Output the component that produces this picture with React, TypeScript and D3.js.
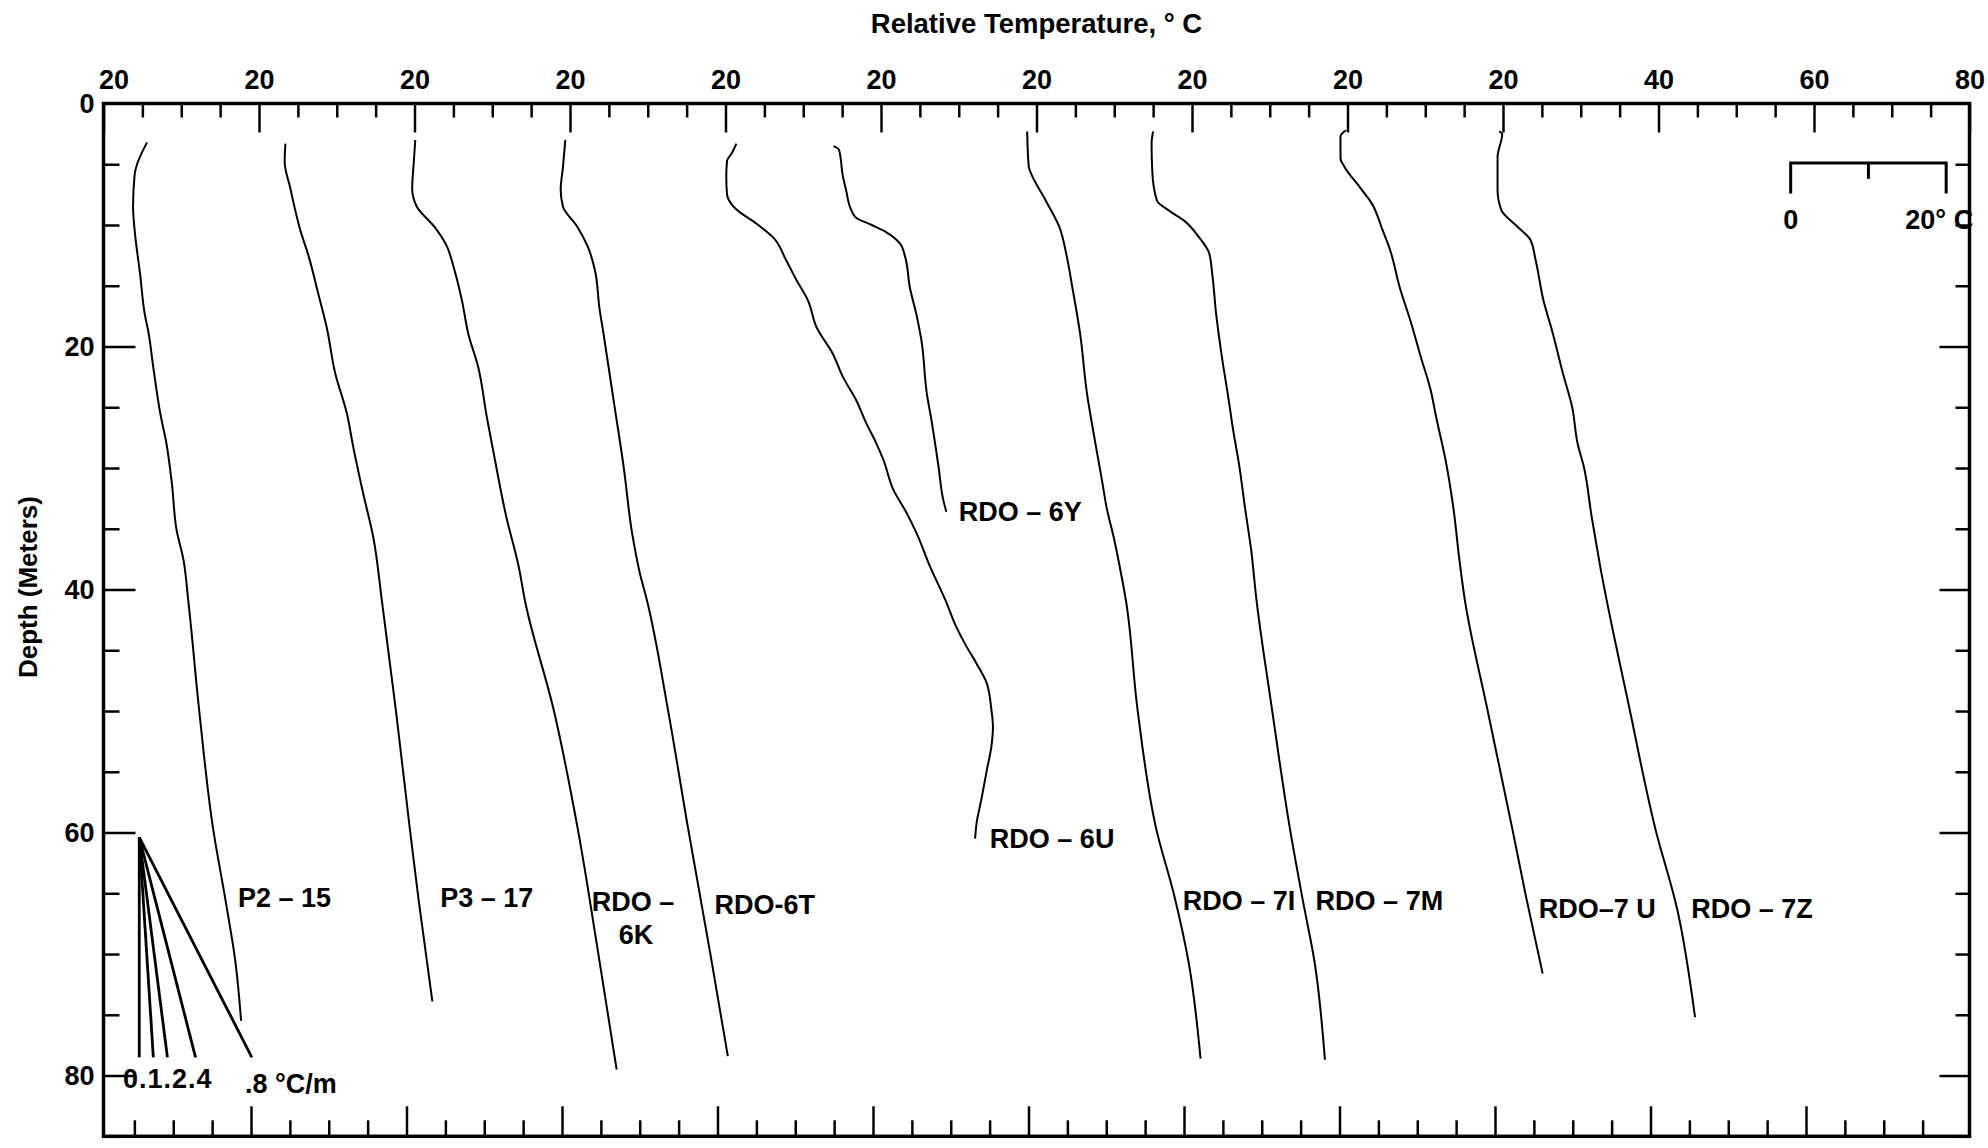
import React, { useEffect, useRef } from "react";
import * as d3 from "d3";

// top axis: every profile has its own "20", the last one runs on to 80
const topTickLabels = ["20", "20", "20", "20", "20", "20", "20", "20", "20", "20", "40", "60", "80"];
const depthTicks = [0, 20, 40, 60, 80];

const profileNames = ["P2 – 15", "P3 – 17", "RDO – 6K", "RDO-6T", "RDO – 6U", "RDO – 6Y", "RDO – 7I", "RDO – 7M", "RDO–7 U", "RDO – 7Z"];

// depth (m) / relative temperature (°C)
const p215Depth = [3.2, 5.9, 8.5, 10.4, 14.0, 17.3, 18.9, 21.7, 25.5, 28.0, 31.3, 35.1, 37.6, 40.9, 49.9, 59.7, 65.6, 70.8, 75.5];
const p215Temp = [25.6, 24.0, 23.8, 24.0, 24.7, 25.3, 25.8, 26.4, 27.3, 28.1, 28.8, 29.4, 30.3, 30.9, 32.3, 34.1, 35.7, 37.0, 37.7];

const p317Depth = [3.3, 4.8, 6.9, 10.4, 12.6, 15.6, 18.4, 22.2, 25.5, 28.2, 32.1, 35.7, 40.9, 49.9, 59.7, 65.4, 73.9];
const p317Temp = [23.4, 23.3, 24.0, 25.3, 26.4, 27.6, 28.7, 29.8, 31.3, 32.1, 33.4, 34.7, 35.8, 37.6, 39.4, 40.5, 42.3];

const rdo6kDepth = [3.0, 4.9, 7.0, 8.5, 10.1, 11.8, 13.4, 16.2, 18.9, 21.7, 25.8, 28.5, 34.0, 38.1, 40.9, 49.9, 59.7, 69.8, 79.5];
const rdo6kTemp = [20.1, 19.9, 19.7, 20.3, 22.5, 24.2, 25.0, 26.1, 26.9, 28.2, 29.3, 30.1, 31.8, 33.4, 34.2, 37.9, 41.0, 43.6, 46.0];

const rdo6tDepth = [3.0, 5.2, 7.1, 8.5, 10.1, 11.8, 13.7, 16.9, 18.9, 24.4, 29.9, 35.4, 38.7, 40.9, 49.9, 59.7, 69.8, 78.4];
const rdo6tTemp = [19.4, 19.1, 18.8, 19.1, 20.9, 22.3, 23.2, 23.8, 24.3, 25.6, 26.9, 28.0, 29.0, 29.9, 32.6, 35.2, 38.0, 40.3];

const rdo6uDepth = [3.3, 4.1, 4.7, 6.0, 7.5, 8.6, 9.9, 11.0, 12.9, 14.5, 16.2, 18.4, 20.6, 22.5, 24.4, 26.3, 27.7, 29.3, 31.8, 33.7, 35.4, 38.1, 40.9, 43.1, 44.7, 46.1, 47.7, 49.9, 51.3, 52.9, 54.9, 57.3, 59.2, 60.5];
const rdo6uTemp = [21.4, 20.8, 20.2, 20.1, 20.2, 21.2, 24.0, 26.1, 27.8, 29.1, 30.6, 31.7, 33.8, 35.1, 36.8, 38.1, 39.2, 40.3, 41.6, 43.3, 44.6, 46.3, 48.3, 49.7, 51.0, 52.3, 53.6, 54.2, 54.4, 54.2, 53.6, 52.9, 52.3, 52.1];

const rdo6yDepth = [3.5, 3.8, 6.0, 7.1, 8.8, 9.4, 10.0, 10.6, 11.5, 12.6, 15.1, 17.5, 19.5, 23.9, 26.1, 29.9, 32.6, 33.6];
const rdo6yTemp = [13.9, 14.6, 15.1, 15.5, 16.2, 16.8, 18.8, 20.7, 22.4, 23.1, 23.7, 24.6, 25.2, 25.9, 26.5, 27.4, 28.0, 28.4];

const rdo7iDepth = [2.3, 5.2, 5.6, 8.0, 10.1, 12.6, 15.1, 18.9, 23.9, 27.7, 31.3, 33.2, 35.9, 38.1, 40.9, 49.9, 59.7, 65.4, 70.8, 78.6];
const rdo7iTemp = [18.8, 19.0, 19.2, 21.2, 22.9, 23.9, 24.6, 25.6, 26.5, 27.5, 28.5, 29.0, 30.0, 30.7, 31.5, 33.0, 35.4, 37.8, 39.6, 41.1];

const rdo7mDepth = [2.3, 3.3, 5.7, 8.0, 8.8, 9.6, 11.0, 12.3, 14.0, 17.3, 21.1, 23.9, 26.9, 29.9, 33.2, 36.7, 40.9, 49.9, 59.7, 65.4, 70.8, 78.7];
const rdo7mTemp = [15.0, 14.8, 14.9, 15.5, 17.0, 18.9, 20.9, 22.2, 22.6, 23.1, 23.9, 24.6, 25.3, 26.1, 26.8, 27.6, 28.3, 30.3, 32.6, 34.2, 35.8, 37.1];

const rdo7uDepth = [2.2, 2.7, 4.5, 5.2, 6.9, 8.2, 10.4, 12.1, 15.1, 18.1, 20.8, 23.6, 25.8, 29.3, 33.2, 37.6, 40.9, 49.9, 59.7, 65.4, 71.6];
const rdo7uTemp = [19.8, 19.1, 19.1, 19.6, 21.6, 23.1, 24.5, 25.5, 26.7, 28.2, 29.4, 30.7, 31.4, 32.6, 33.6, 34.4, 35.1, 38.0, 41.2, 43.0, 45.1];

const rdo7zDepth = [2.3, 2.5, 4.4, 5.2, 7.1, 8.8, 10.1, 11.2, 12.9, 16.2, 18.9, 22.2, 25.0, 28.0, 29.9, 34.0, 38.1, 49.9, 59.7, 66.3, 75.2];
const rdo7zTemp = [19.5, 19.9, 19.3, 19.3, 19.3, 19.8, 21.8, 23.5, 24.2, 25.2, 26.4, 27.7, 28.9, 29.6, 30.4, 31.4, 32.5, 36.3, 39.6, 42.4, 44.7];

// reference gradients fan, °C/m
const gradients = [0, 0.1, 0.2, 0.4, 0.8];

const profiles = [
  { name: profileNames[0], depth: p215Depth, temp: p215Temp },
  { name: profileNames[1], depth: p317Depth, temp: p317Temp },
  { name: profileNames[2], depth: rdo6kDepth, temp: rdo6kTemp },
  { name: profileNames[3], depth: rdo6tDepth, temp: rdo6tTemp },
  { name: profileNames[4], depth: rdo6uDepth, temp: rdo6uTemp },
  { name: profileNames[5], depth: rdo6yDepth, temp: rdo6yTemp },
  { name: profileNames[6], depth: rdo7iDepth, temp: rdo7iTemp },
  { name: profileNames[7], depth: rdo7mDepth, temp: rdo7mTemp },
  { name: profileNames[8], depth: rdo7uDepth, temp: rdo7uTemp },
  { name: profileNames[9], depth: rdo7zDepth, temp: rdo7zTemp },
];

// label anchors, in depth and in the profile's own temperature units
const labelLayout = [
  { d: 65.4, t: 37.3 },
  { d: 65.4, t: 43.3 },
  { d: 65.7, t: 48.5 },
  { d: 66.0, t: 38.6 },
  { d: 60.5, t: 54.0 },
  { d: 33.6, t: 30.0 },
  { d: 65.6, t: 38.8 },
  { d: 65.6, t: 35.9 },
  { d: 66.3, t: 44.6 },
  { d: 66.3, t: 44.2 },
];

const FONT = "'Liberation Sans', Arial, Helvetica, sans-serif";

const App = () => {
  const svgRef = useRef<SVGSVGElement>(null);

  useEffect(() => {
    const width = 1988;
    const height = 1148;
    const left = 103.5;
    const right = 1969.5;
    const top = 103.5;
    const bottom = 1136.3;

    const svg = d3.select(svgRef.current);
    svg.selectAll("*").remove();
    svg.attr("width", width).attr("height", height).attr("viewBox", [0, 0, width, height].join(" "));

    // one continuous axis, 20 °C per major tick, profiles stacked along it
    const x = d3.scaleLinear().domain([0, 240]).range([left, right]);
    const y = d3.scaleLinear().domain([0, 85]).range([top, bottom]);
    const px = (k: number, t: number) => x(k * 20 + (t - 20));

    const minorX = d3.range(0, 241, 5).filter((v) => v % 20 !== 0);
    const majorX = d3.range(0, 241, 20);
    const minorY = d3.range(0, 86, 5).filter((v) => v % 20 !== 0);

    const styleAxis = (g: any, w: number) => {
      g.select(".domain").remove();
      g.selectAll(".tick line").attr("stroke", "#000").attr("stroke-width", w);
      g.selectAll("text")
        .attr("fill", "#000")
        .attr("font-family", FONT)
        .attr("font-weight", "bold")
        .attr("font-size", 27);
    };

    // top
    svg.append("g")
      .attr("transform", `translate(0,${top})`)
      .call(d3.axisTop(x).tickValues(minorX).tickSize(-14).tickFormat(() => ""))
      .call((g) => styleAxis(g, 2.5));
    svg.append("g")
      .attr("transform", `translate(0,${top})`)
      .call(d3.axisTop(x).tickValues(majorX).tickSize(-29).tickPadding(15).tickFormat((d, i) => topTickLabels[i]))
      .call((g) => styleAxis(g, 2.5))
      .call((g) => g.selectAll("text").attr("dx", (d: any) => (d === 0 ? 10 : 0)));

    // bottom (scan has these sitting a little left)
    svg.append("g")
      .attr("transform", `translate(-8,${bottom})`)
      .call(d3.axisBottom(x).tickValues(minorX).tickSize(-16).tickFormat(() => ""))
      .call((g) => styleAxis(g, 2.5));
    svg.append("g")
      .attr("transform", `translate(-8,${bottom})`)
      .call(d3.axisBottom(x).tickValues(majorX.slice(1, -1)).tickSize(-30).tickFormat(() => ""))
      .call((g) => styleAxis(g, 2.5));

    // left
    svg.append("g")
      .attr("transform", `translate(${left},0)`)
      .call(d3.axisLeft(y).tickValues(minorY).tickSize(-16).tickFormat(() => ""))
      .call((g) => styleAxis(g, 2.5));
    svg.append("g")
      .attr("transform", `translate(${left},0)`)
      .call(d3.axisLeft(y).tickValues(depthTicks).tickSize(-32).tickPadding(9).tickFormat((d) => String(d)))
      .call((g) => styleAxis(g, 2.5))
      .call((g) => g.selectAll(".tick").filter((d: any) => d === 0).select("line").remove());

    // right
    svg.append("g")
      .attr("transform", `translate(${right},0)`)
      .call(d3.axisRight(y).tickValues(minorY).tickSize(-14).tickFormat(() => ""))
      .call((g) => styleAxis(g, 2.5));
    svg.append("g")
      .attr("transform", `translate(${right},0)`)
      .call(d3.axisRight(y).tickValues(depthTicks.slice(1)).tickSize(-30).tickFormat(() => ""))
      .call((g) => styleAxis(g, 2.5));

    // frame
    svg.append("rect")
      .attr("x", left)
      .attr("y", top)
      .attr("width", right - left)
      .attr("height", bottom - top)
      .attr("fill", "none")
      .attr("stroke", "#000")
      .attr("stroke-width", 3.5);

    // titles
    svg.append("text")
      .attr("x", x(120))
      .attr("y", 33)
      .attr("text-anchor", "middle")
      .attr("font-family", FONT)
      .attr("font-weight", "bold")
      .attr("font-size", 27.5)
      .text("Relative Temperature, ° C");

    svg.append("text")
      .attr("transform", `translate(37,${y(39.8)}) rotate(-90)`)
      .attr("text-anchor", "middle")
      .attr("font-family", FONT)
      .attr("font-weight", "bold")
      .attr("font-size", 26)
      .text("Depth (Meters)");

    // profiles
    const line = d3.line<[number, number]>()
      .x((p) => p[0])
      .y((p) => p[1])
      .curve(d3.curveMonotoneY);

    profiles.forEach((p, k) => {
      const pts = p.depth.map((d, i) => [px(k, p.temp[i]), y(d)] as [number, number]);
      svg.append("path")
        .attr("d", line(pts))
        .attr("fill", "none")
        .attr("stroke", "#000")
        .attr("stroke-width", 2);
    });

    // labels
    const labels = svg.append("g")
      .attr("font-family", FONT)
      .attr("font-weight", "bold")
      .attr("font-size", 27)
      .attr("fill", "#000");
    profiles.forEach((p, k) => {
      const pos = labelLayout[k];
      if (k === 2) {
        const t = labels.append("text")
          .attr("x", px(k, pos.t))
          .attr("y", y(pos.d))
          .attr("text-anchor", "middle")
          .attr("dominant-baseline", "central");
        t.append("tspan").attr("x", px(k, pos.t)).attr("dx", -3).text("RDO –");
        t.append("tspan").attr("x", px(k, pos.t)).attr("dy", 33).text("6K");
        return;
      }
      labels.append("text")
        .attr("x", px(k, pos.t))
        .attr("y", y(pos.d))
        .attr("dominant-baseline", "central")
        .text(p.name);
    });

    // gradient fan
    const fanTop = 60.4;
    const fanBottom = 78.5;
    const fanT = 24.6;
    gradients.forEach((g) => {
      svg.append("line")
        .attr("x1", px(0, fanT))
        .attr("y1", y(fanTop))
        .attr("x2", px(0, fanT + g * (fanBottom - fanTop)))
        .attr("y2", y(fanBottom))
        .attr("stroke", "#000")
        .attr("stroke-width", 2.8);
    });
    svg.append("text")
      .attr("x", px(0, 22.5))
      .attr("y", y(81.0))
      .attr("font-family", FONT)
      .attr("font-weight", "bold")
      .attr("font-size", 27)
      .attr("letter-spacing", 1)
      .text("0.1.2.4");
    svg.append("text")
      .attr("x", px(0, 38.2))
      .attr("y", y(81.4))
      .attr("font-family", FONT)
      .attr("font-weight", "bold")
      .attr("font-size", 27)
      .text(".8 °C/m");

    // 20 °C scale bar
    const barStart = 217;
    const barDepth = 4.9;
    const bar = svg.append("g").attr("stroke", "#000").attr("stroke-width", 3).attr("fill", "none");
    bar.append("path")
      .attr("d", `M${x(barStart)},${y(barDepth + 2.5)}V${y(barDepth)}H${x(barStart + 20)}V${y(barDepth + 2.5)}`);
    bar.append("line")
      .attr("x1", x(barStart + 10))
      .attr("x2", x(barStart + 10))
      .attr("y1", y(barDepth))
      .attr("y2", y(barDepth + 1.3));
    svg.append("text")
      .attr("x", x(barStart))
      .attr("y", y(10.3))
      .attr("text-anchor", "middle")
      .attr("font-family", FONT)
      .attr("font-weight", "bold")
      .attr("font-size", 27)
      .text("0");
    svg.append("text")
      .attr("x", x(barStart + 20) + 27)
      .attr("y", y(10.3))
      .attr("text-anchor", "end")
      .attr("font-family", FONT)
      .attr("font-weight", "bold")
      .attr("font-size", 27)
      .text("20° C");
  }, []);

  return (
    <svg
      ref={svgRef}
      style={{ position: "absolute", left: 0, top: 0, background: "#fff", display: "block" }}
    />
  );
};

export default App;
